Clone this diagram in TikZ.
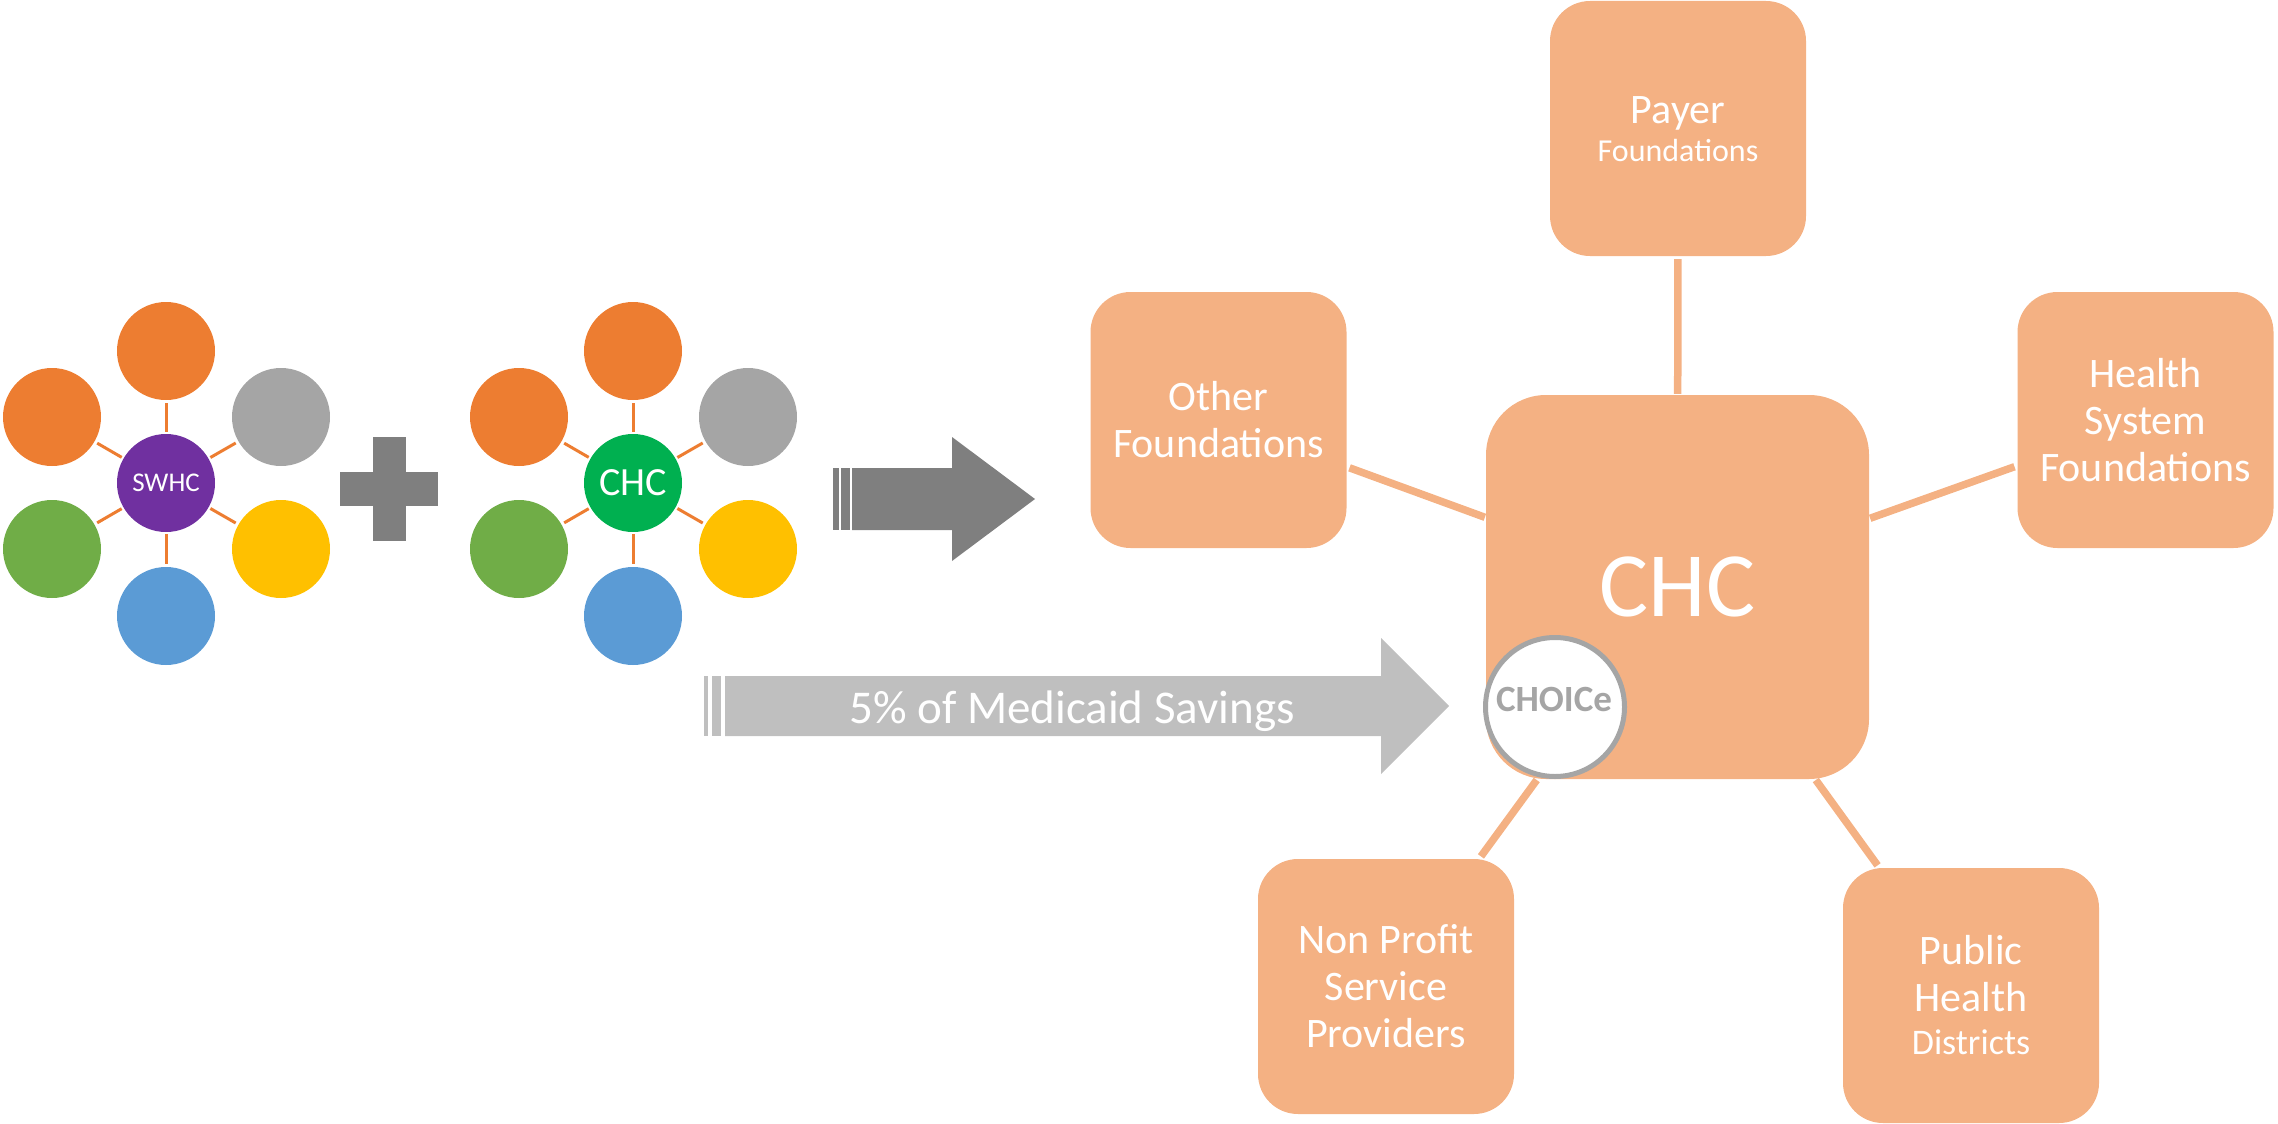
\documentclass[tikz,border=0pt]{standalone}
\usepackage{fontspec}
\setmainfont{Carlito}
\definecolor{boxor}{HTML}{F4B183}
\definecolor{acctwo}{HTML}{ED7D31}
\definecolor{accthree}{HTML}{A5A5A5}
\definecolor{accsix}{HTML}{70AD47}
\definecolor{accfour}{HTML}{FFC000}
\definecolor{accfive}{HTML}{5B9BD5}
\definecolor{purp}{HTML}{7030A0}
\definecolor{grn}{HTML}{00B050}
\definecolor{dgray}{HTML}{7F7F7F}
\definecolor{lgray}{HTML}{BFBFBF}
\begin{document}
\begin{tikzpicture}[x=1pt,y=-1pt,
  sat/.style={circle, minimum size=98pt, inner sep=0pt},
  hub/.style={circle, minimum size=98pt, inner sep=0pt, text=white},
  spoke/.style={draw=acctwo, line width=3pt, shorten <=2pt, shorten >=3pt},
  rbox/.style={rectangle, rounded corners=40pt, fill=boxor, inner sep=0pt,
    minimum width=256pt, minimum height=256pt, text=white, align=center,
    font=\fontsize{42}{47}\selectfont},
  btext/.style={text=white, inner sep=0pt, anchor=base},
  conn/.style={draw=boxor, line width=7.5pt, shorten <=3pt, shorten >=1pt}]
\useasboundingbox (0,0) rectangle (2278,1124);

% clusters
\foreach \cx/\nm/\col/\lbl/\fs in {166/L/purp/SWHC/27, 633/R/grn/CHC/40} {
  \node[hub, fill=\col, font=\fontsize{\fs}{\fs}\selectfont] (\nm hub) at (\cx,483) {\lbl};
  \foreach \dx/\dy/\c/\k in {0/-132/acctwo/a, -114/-66/acctwo/b, 115/-66/accthree/c,
                            -114/66/accsix/d, 115/66/accfour/e, 0/133/accfive/f} {
    \node[sat, fill=\c] (\nm\k) at (\cx+\dx,483+\dy) {};
    \draw[spoke] (\nm hub) -- (\nm\k);
  }
}

% plus sign
\fill[dgray] (373,437) rectangle (406,541);
\fill[dgray] (340,472) rectangle (438,506);

% dark striped arrow
\fill[dgray] (833,468) rectangle (839,530);
\fill[dgray] (841,468) rectangle (850,530);
\fill[dgray] (852,468) -- (952,468) -- (952,437) -- (1035,499) -- (952,561) -- (952,530) -- (852,530) -- cycle;

% light striped arrow
\fill[lgray] (704,676) rectangle (708,736);
\fill[lgray] (712,676) rectangle (721,736);
\fill[lgray] (725,676) -- (1381,676) -- (1381,638) -- (1449,706) -- (1381,774) -- (1381,736) -- (725,736) -- cycle;
\node[btext, font=\fontsize{47}{56}\selectfont] (savings) at (1072,723) {5\% of Medicaid Savings};

% boxes
\node[rbox, minimum height=255pt] (payer) at (1678,128.5) {};
\node[btext, font=\fontsize{42}{47}\selectfont] (payerA) at (1678,123) {Payer};
\node[btext, font=\fontsize{32}{38}\selectfont] (payerB) at (1678,161) {Foundations};
\node[rbox] (other) at (1218.5,420) {Other\\Foundations};
\node[rbox] (health) at (2145.5,420) {Health\\System\\Foundations};
\node[rbox, rounded corners=60pt, minimum width=383pt, minimum height=384pt,
      font=\fontsize{92}{100}\selectfont] (chc) at (1677.5,587) {CHC};
\node[rbox, minimum height=255pt] (nonprofit) at (1386,986.5) {Non Profit\\Service\\Providers};
\node[rbox, minimum height=255pt] (public) at (1971,995.5) {Public\\Health\\[-4pt]{\fontsize{36}{43}\selectfont Districts}};

% connectors
\draw[conn] (payer) -- (chc);
\draw[conn] (other) -- (chc);
\draw[conn] (health) -- (chc);
\draw[conn] (nonprofit) -- (chc);
\draw[conn] (public) -- (chc);

% CHOICe
\node[circle, draw=accthree, line width=5pt, fill=white, minimum size=139pt, inner sep=0pt] (choice) at (1555,707) {};
\node[btext, text=accthree, font=\fontsize{37}{44}\selectfont\bfseries] (choicet) at (1554,711) {CHOICe};
\end{tikzpicture}
\end{document}
